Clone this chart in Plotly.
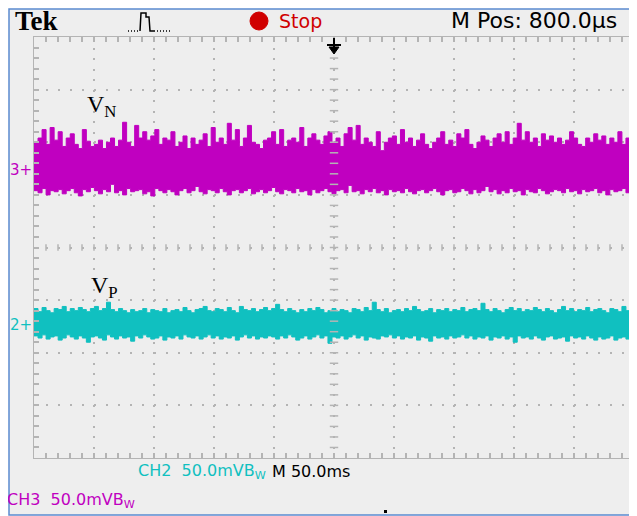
import numpy as np
import plotly.graph_objects as go

# scope settings (mV/div, ms/div) and channel ground offsets (mV on screen)
volt_div = 50
time_div = 50
ch3_offset = 74
ch2_offset = -74

# V_N (CH3) noise envelope in mV
vn_hi = [
    26, 30, 38, 24, 40, 28, 36, 22, 30, 34, 24, 20, 38, 27, 22,
    24, 28, 20, 26, 30, 22, 28, 45, 26, 22, 42, 30, 36, 28, 32,
    38, 24, 30, 28, 36, 22, 26, 32, 20, 30, 24, 28, 34, 22, 40,
    26, 30, 24, 44, 28, 38, 22, 30, 42, 26, 24, 20, 28, 30, 36,
    24, 38, 22, 28, 30, 26, 40, 22, 30, 34, 28, 24, 32, 36, 26,
    30, 22, 34, 40, 28, 42, 24, 30, 26, 22, 36, 18, 26, 30, 32,
    24, 38, 26, 30, 22, 28, 34, 24, 20, 26, 30, 36, 24, 28, 22,
    34, 30, 38, 24, 20, 26, 32, 28, 22, 30, 34, 26, 36, 24, 30,
    44, 28, 36, 26, 30, 22, 34, 28, 32, 26, 30, 24, 28, 36, 30,
    24, 22, 30, 26, 34, 28, 32, 24, 30, 26, 36, 24, 30, 32, 36]
vn_lo = [
    -20, -22, -18, -24, -20, -21, -19, -23, -20, -18, -22, -25, -19, -21, -17,
    -20, -23, -19, -21, -14, -22, -20, -24, -18, -21, -20, -19, -23, -21, -25,
    -18, -20, -22, -19, -21, -24, -20, -18, -22, -20, -16, -21, -23, -19, -20,
    -22, -18, -21, -24, -20, -19, -22, -20, -18, -23, -21, -19, -22, -20, -17,
    -21, -23, -19, -20, -22, -18, -21, -20, -24, -19, -22, -20, -18, -21, -23,
    -20, -19, -22, -15, -21, -20, -23, -19, -21, -18, -22, -20, -24, -19, -21,
    -20, -22, -18, -21, -23, -20, -19, -22, -20, -18, -21, -24, -20, -19, -22,
    -21, -18, -20, -23, -19, -22, -20, -16, -21, -19, -23, -20, -22, -18, -21,
    -20, -24, -19, -21, -22, -18, -20, -23, -21, -19, -20, -22, -18, -21, -20,
    -23, -19, -21, -20, -18, -22, -20, -24, -19, -21, -20, -18, -22, -19, -21]

# V_P (CH2) noise envelope in mV
vp_hi = [
    16, 13, 17, 14, 12, 16, 15, 18, 13, 16, 14, 17, 15, 13, 16,
    18, 14, 16, 22, 15, 13, 16, 14, 12, 15, 13, 14, 16, 12, 15,
    14, 13, 16, 12, 14, 15, 13, 17, 14, 12, 15, 16, 18, 14, 13,
    16, 15, 13, 17, 14, 12, 18, 15, 14, 16, 13, 15, 17, 14, 16,
    20, 15, 13, 16, 14, 12, 15, 13, 16, 14, 17, 15, 12, 14, 16,
    13, 15, 14, 12, 16, 15, 13, 17, 14, 22, 15, 13, 16, 12, 14,
    15, 13, 16, 14, 18, 15, 13, 14, 16, 12, 15, 14, 16, 13, 15,
    14, 17, 13, 15, 16, 14, 21, 15, 13, 16, 14, 12, 15, 17, 14,
    16, 13, 15, 14, 17, 15, 13, 16, 14, 12, 15, 18, 14, 16, 13,
    15, 14, 17, 13, 15, 16, 14, 12, 16, 15, 13, 18, 14, 12, 10]
vp_lo = [
    -10, -12, -9, -13, -11, -10, -14, -12, -9, -11, -13, -10, -12, -16, -11,
    -10, -12, -14, -9, -11, -13, -10, -12, -11, -15, -10, -12, -9, -11, -13,
    -12, -10, -14, -11, -12, -10, -13, -9, -11, -12, -10, -13, -11, -9, -12,
    -10, -13, -11, -12, -10, -14, -11, -9, -12, -10, -13, -11, -12, -10, -11,
    -13, -10, -12, -9, -11, -14, -12, -10, -13, -11, -9, -12, -10, -17, -11,
    -12, -10, -13, -11, -9, -12, -10, -14, -11, -12, -13, -10, -11, -9, -12,
    -10, -13, -11, -12, -10, -14, -11, -12, -15, -10, -12, -11, -13, -10, -12,
    -11, -9, -12, -10, -13, -11, -12, -10, -14, -11, -12, -10, -13, -11, -16,
    -10, -12, -11, -13, -10, -12, -14, -11, -10, -13, -12, -11, -15, -10, -12,
    -11, -13, -10, -12, -14, -11, -13, -12, -10, -14, -12, -11, -13, -12, -11]

PURPLE = '#c000c0'
CYAN = '#10c0c0'
GRID = '#b4b4b4'
FONT = 'DejaVu Sans, Verdana, sans-serif'
SERIF = 'Liberation Serif, Times New Roman, serif'

# page has an 8px body margin, so the figure is drawn 8px smaller
OFF = 8
W, H = 637 - OFF, 516 - OFF
L, R, T, B = 34, 634, 37, 458   # plot area in window pixels


def px(x, y):
    # window pixel position -> paper coordinates
    return (x - L) / (R - L), (B - y) / (B - T)


t = np.linspace(0, 10 * time_div, len(vn_hi))

fig = go.Figure()
for lo, hi, off, col in [(vn_lo, vn_hi, ch3_offset, PURPLE),
                         (vp_lo, vp_hi, ch2_offset, CYAN)]:
    fig.add_trace(go.Scatter(x=t, y=np.array(lo) + off, mode='lines',
                             line=dict(color=col, width=1, shape='hv'),
                             hoverinfo='skip', showlegend=False))
    fig.add_trace(go.Scatter(x=t, y=np.array(hi) + off, mode='lines',
                             line=dict(color=col, width=1, shape='hv'),
                             fill='tonexty', fillcolor=col,
                             hoverinfo='skip', showlegend=False))

shapes = []
# grey instrument frame with blue outline
x0, y0 = px(9, 9)
x1, y1 = px(645, 515)
shapes.append(dict(type='rect', xref='paper', yref='paper', x0=x0, y0=y0, x1=x1, y1=y1,
                   fillcolor='#eeeeee', line=dict(color='#5b8bd0', width=1.5), layer='below'))

# ticks on the centre cross
for k in range(1, 50):
    xm = k * time_div / 5
    shapes.append(dict(type='line', x0=xm, x1=xm, y0=-3, y1=3,
                       line=dict(color=GRID, width=1.5)))
for k in range(-19, 20):
    ym = k * volt_div / 5
    shapes.append(dict(type='line', x0=5 * time_div - 3.5, x1=5 * time_div + 3.5, y0=ym, y1=ym,
                       line=dict(color=GRID, width=1.5)))

# trigger position marker
a = px(327, 45)
b = px(341, 45)
shapes.append(dict(type='line', xref='paper', yref='paper', x0=a[0], x1=b[0], y0=a[1], y1=a[1],
                   line=dict(color='black', width=2)))
a = px(334, 38)
b = px(334, 47)
shapes.append(dict(type='line', xref='paper', yref='paper', x0=a[0], x1=b[0], y0=a[1], y1=b[1],
                   line=dict(color='black', width=2)))
p1 = px(329, 47)
p2 = px(339, 47)
p3 = px(334, 54)
shapes.append(dict(type='path', xref='paper', yref='paper',
                   path=f'M {p1[0]},{p1[1]} L {p2[0]},{p2[1]} L {p3[0]},{p3[1]} Z',
                   fillcolor='black', line=dict(color='black', width=1)))

# red stop dot
c0 = px(250, 12)
c1 = px(268, 30)
shapes.append(dict(type='circle', xref='paper', yref='paper', x0=c0[0], y0=c0[1], x1=c1[0], y1=c1[1],
                   fillcolor='#d00000', line=dict(color='#d00000', width=1)))

# acquisition icon
pts = [(140, 31), (141, 13), (146, 13), (146, 17), (149, 17), (150, 31), (154, 31)]
path = 'M ' + ' L '.join(f'{px(u, v)[0]},{px(u, v)[1]}' for u, v in pts)
shapes.append(dict(type='path', xref='paper', yref='paper', path=path,
                   line=dict(color='black', width=1.5)))
for a0, a1 in [(128, 140), (154, 172)]:
    q0 = px(a0, 31)
    q1 = px(a1, 31)
    shapes.append(dict(type='line', xref='paper', yref='paper', x0=q0[0], x1=q1[0], y0=q0[1], y1=q1[1],
                       line=dict(color='black', width=1.5, dash='1px,2px')))

# small dot at bottom
d0 = px(384, 510)
d1 = px(387, 513)
shapes.append(dict(type='rect', xref='paper', yref='paper', x0=d0[0], y0=d0[1], x1=d1[0], y1=d1[1],
                   fillcolor='black', line=dict(width=0)))

# channel 2 end marker on the right edge
e0 = px(627, 320)
e1 = px(634, 320)
shapes.append(dict(type='line', xref='paper', yref='paper', x0=e0[0], x1=e1[0], y0=e0[1], y1=e1[1],
                   line=dict(color=CYAN, width=2)))

annotations = []


def label(text, x, y, size, color='black', family=FONT, xanchor='left'):
    ux, uy = px(x, y)
    annotations.append(dict(text=text, x=ux, y=uy, xref='paper', yref='paper', showarrow=False,
                            xanchor=xanchor, yanchor='middle', font=dict(size=size, color=color, family=family)))


label('<b>Tek</b>', 13, 21, 27, family=SERIF)
label('Stop', 277, 21, 19, color='#d00000')
label('M Pos: 800.0µs', 534, 20, 22, xanchor='center')
label('3+', 8, 170, 15, color=PURPLE)
label('2+', 8, 325, 15, color=CYAN)
label('V<sub>N</sub>', 85, 106, 24, family=SERIF)
label('V<sub>P</sub>', 89, 287, 24, family=SERIF)
label('CH2  50.0mVB<sub>W</sub>', 202, 471, 16, color=CYAN, xanchor='center')
label('M 50.0ms', 311, 471, 16, xanchor='center')
label('CH3  50.0mVB<sub>W</sub>', 71, 501, 16, color=PURPLE, xanchor='center')

axis_common = dict(showticklabels=False, showline=True, linecolor=GRID, linewidth=1,
                   mirror='allticks', ticks='inside', ticklen=5, tickcolor=GRID, tickwidth=1.5,
                   showgrid=True, gridcolor=GRID, gridwidth=2, zeroline=False, fixedrange=True)

fig.update_layout(
    width=W, height=H,
    margin=dict(l=L - OFF, r=637 - R, t=T - OFF, b=516 - B),
    paper_bgcolor='white', plot_bgcolor='white',
    shapes=shapes, annotations=annotations,
    xaxis=dict(range=[0, 10 * time_div], dtick=time_div, griddash='2px,8.5px',
               minor=dict(dtick=time_div / 5, ticks='inside', ticklen=5, tickcolor=GRID, showgrid=False),
               **axis_common),
    yaxis=dict(range=[-4 * volt_div, 4 * volt_div], dtick=volt_div, griddash='2px,10px',
               minor=dict(dtick=volt_div / 5, ticks='inside', ticklen=5, tickcolor=GRID, showgrid=False),
               **axis_common),
)

fig.write_html("out.html")
